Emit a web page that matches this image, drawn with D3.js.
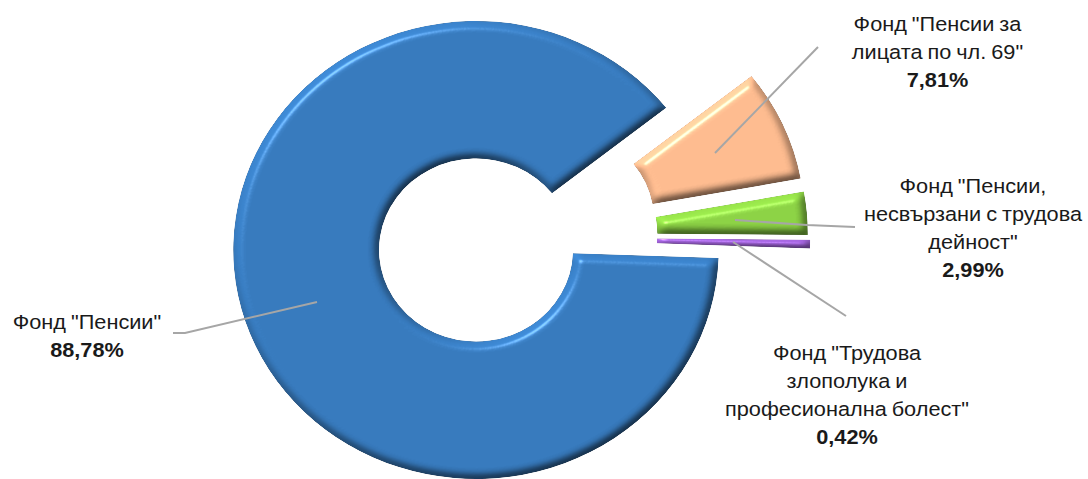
<!DOCTYPE html>
<html>
<head>
<meta charset="utf-8">
<script src="https://cdn.jsdelivr.net/npm/d3@7"></script>
<style>
    body { margin: 0; background: #fff; }
    text { font-family: "Liberation Sans", Arial, sans-serif; font-size: 20.5px; fill: #1a1a1a; word-spacing: -1px; }
</style>
</head>
<body>
<div id="plotRegi"></div>
<script>
// Data
var names = ['Фонд "Пенсии"', 'Фонд "Пенсии за лицата по чл. 69"', 'Фонд "Пенсии, несвързани с трудова дейност"', 'Фонд "Трудова злополука и професионална болест"']
var values = [88.78, 7.81, 2.99, 0.42]
var value_labels = ["88,78%", "7,81%", "2,99%", "0,42%"]
var label_lines = [
    ['Фонд "Пенсии"'],
    ['Фонд "Пенсии за', 'лицата по чл. 69"'],
    ['Фонд "Пенсии,', 'несвързани с трудова', 'дейност"'],
    ['Фонд "Трудова', 'злополука и', 'професионална болест"']
]
var colors = ["#377abd", "#fdbb8f", "#8cd245", "#9a5fd0"]

var width = 1088, height = 479
var cx = 476, cy = 250
var stretch = 1.06   // the picture is a bit wider than tall

// How far each slice is pulled out of the ring
var explode = [[0, 0], [78, -30], [81, -17], [82, -11]]
var label_pos = [
    { x: 87, y: 329 },
    { x: 937.5, y: 31 },
    { x: 973, y: 193 },
    { x: 847, y: 360 }
]
var leaders = [
    [[317, 302], [185, 333], [173, 333]],
    [[715, 153], [818, 47]],
    [[735, 220], [807, 225], [855, 227]],
    [[733, 242], [846, 316]]
]

var svg = d3.select("#plotRegi")
    .append("svg")
    .attr("width", width)
    .attr("height", height)
    .style("display", "block")

// Bevel look
var defs = svg.append("defs")
var filter = defs.append("filter")
    .attr("id", "bevel")
    .attr("filterUnits", "userSpaceOnUse")
    .attr("x", -300).attr("y", -300)
    .attr("width", 700).attr("height", 600)
    .attr("color-interpolation-filters", "sRGB")
filter.append("feGaussianBlur")
    .attr("in", "SourceAlpha")
    .attr("stdDeviation", 4.5)
    .attr("result", "blur")
var diffuse = filter.append("feDiffuseLighting")
    .attr("in", "blur")
    .attr("surfaceScale", 6)
    .attr("diffuseConstant", 0.92)
    .attr("lighting-color", "#fff")
    .attr("result", "light")
diffuse.append("feDistantLight").attr("azimuth", 235).attr("elevation", 55)
filter.append("feComposite")
    .attr("in", "SourceGraphic").attr("in2", "light")
    .attr("operator", "arithmetic")
    .attr("k1", 0.9).attr("k2", 0.32).attr("k3", 0).attr("k4", 0)
    .attr("result", "lit")
var spec = filter.append("feSpecularLighting")
    .attr("in", "blur")
    .attr("surfaceScale", 6)
    .attr("specularConstant", 0.3)
    .attr("specularExponent", 90)
    .attr("lighting-color", "#fff")
    .attr("result", "shine")
spec.append("feDistantLight").attr("azimuth", 235).attr("elevation", 55)
filter.append("feComposite")
    .attr("in", "lit").attr("in2", "shine")
    .attr("operator", "arithmetic")
    .attr("k1", 0).attr("k2", 1).attr("k3", 1).attr("k4", 0)
    .attr("result", "both")
filter.append("feComposite")
    .attr("in", "both").attr("in2", "SourceAlpha")
    .attr("operator", "in")

// Doughnut
var start = 92 * Math.PI / 180
var pie = d3.pie().sort(null)
    .startAngle(start)
    .endAngle(start + 2 * Math.PI)
var arc = d3.arc()
    .innerRadius(d => d.index == 0 ? 91.5 : 90)
    .outerRadius(d => d.index == 0 ? 229 : 232)

svg.append("g").attr("id", "slices")
    .attr("transform", "translate(" + cx + "," + cy + ") scale(" + stretch + ",1)")
    .selectAll("path")
    .data(pie(values))
    .enter()
    .append("path")
    .attr("d", arc)
    .attr("transform", (d, i) => "translate(" + explode[i] + ")")
    .attr("fill", (d, i) => colors[i])
    .attr("stroke", (d, i) => i == 3 ? colors[i] : "none")   // the thin one needs some body
    .attr("stroke-width", 2.5)
    .attr("filter", "url(#bevel)")
    .append("title").text((d, i) => names[i])

// Leader lines
var line = d3.line()
svg.append("g").attr("id", "leaders")
    .selectAll("path")
    .data(leaders)
    .enter()
    .append("path")
    .attr("d", d => line(d))
    .attr("fill", "none")
    .attr("stroke", "#a6a6a6")
    .attr("stroke-width", 2)

// Labels
var labels = svg.append("g").attr("id", "labels")
    .attr("transform", "scale(" + stretch + ",1)")
    .selectAll("text")
    .data(values)
    .enter()
    .append("text")
    .attr("text-anchor", "middle")
    .attr("y", (d, i) => label_pos[i].y)

labels.each(function (d, i) {
    var t = d3.select(this)
    var x = label_pos[i].x / stretch
    label_lines[i].forEach(function (s, k) {
        t.append("tspan")
            .attr("x", x)
            .attr("dy", k == 0 ? 0 : 28)
            .text(s)
    })
    t.append("tspan")
        .attr("x", x)
        .attr("dy", 28)
        .style("font-weight", "bold")
        .text(value_labels[i])
})
</script>
</body>
</html>
